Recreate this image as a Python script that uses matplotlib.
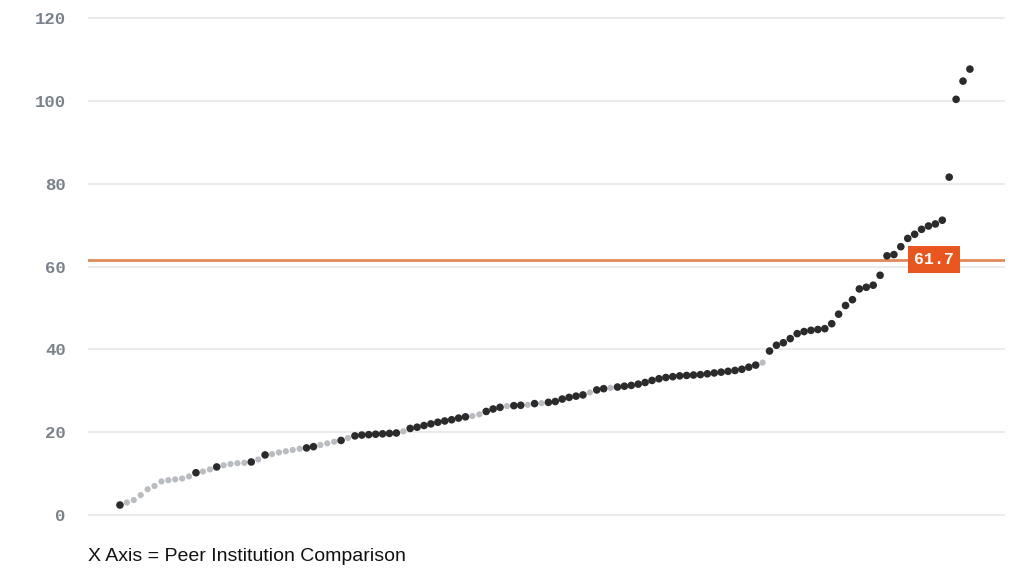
# Peer institution comparison: sorted values, with a 61.7 reference line.

import matplotlib.pyplot as plt
import numpy as np

# values, sorted low to high
values = [
    2.4, 3.0, 3.6, 4.8, 6.2, 7.0, 8.1, 8.4, 8.6, 8.8,
    9.3, 10.2, 10.5, 11.0, 11.6, 12.0, 12.3, 12.5, 12.6, 12.8,
    13.4, 14.5, 14.7, 15.1, 15.4, 15.7, 16.0, 16.2, 16.5, 16.9,
    17.3, 17.7, 18.0, 18.6, 19.1, 19.3, 19.4, 19.5, 19.6, 19.7,
    19.8, 20.2, 20.9, 21.2, 21.6, 22.0, 22.4, 22.7, 23.0, 23.4,
    23.7, 23.9, 24.3, 25.0, 25.6, 26.0, 26.3, 26.4, 26.5, 26.6,
    26.9, 27.0, 27.2, 27.4, 28.0, 28.4, 28.7, 29.0, 29.6, 30.2,
    30.5, 30.7, 30.9, 31.1, 31.3, 31.6, 32.0, 32.5, 32.9, 33.2,
    33.4, 33.6, 33.7, 33.8, 33.9, 34.1, 34.3, 34.5, 34.7, 34.9,
    35.2, 35.7, 36.2, 36.8, 39.6, 41.0, 41.6, 42.6, 43.8, 44.3,
    44.6, 44.8, 45.0, 46.2, 48.5, 50.6, 52.0, 54.6, 55.0, 55.5,
    57.9, 62.6, 62.9, 64.8, 66.8, 67.8, 69.0, 69.8, 70.3, 71.2,
    81.6, 100.4, 104.8, 107.7,
]

# which points are drawn faded (light grey) in the original
faded = [
    1, 2, 3, 4, 5, 6, 7, 8, 9, 10, 12, 13, 15, 16, 17, 18, 20, 22, 23, 24,
    25, 26, 29, 30, 31, 33, 41, 51, 52, 56, 59, 61, 68, 71, 93,
]

reference = 61.7
y_ticks = [0, 20, 40, 60, 80, 100, 120]
x_label = "X Axis = Peer Institution Comparison"

values = np.array(values)
idx = np.arange(len(values))
is_faded = np.isin(idx, faded)

fig = plt.figure(figsize=(10.24, 5.77), dpi=100)
ax = fig.add_axes([0.0859, 0.086, 0.8955, 0.904])

ax.set_ylim(-3, 123)
ax.set_xlim(-4.63, 128.07)

for t in y_ticks:
    ax.axhline(t, color="#ebebeb", lw=1.5, zorder=0)

ax.axhline(reference, color="#e2895c", lw=2, zorder=1)

ax.scatter(idx[is_faded], values[is_faded], s=20, color="#b9bcc0",
           edgecolors="none", zorder=2)
ax.scatter(idx[~is_faded], values[~is_faded], s=30, color="#2b2b2b",
           edgecolors="none", zorder=3)

ax.text(0.9226, reference, f"{reference}", transform=ax.get_yaxis_transform(),
        ha="center", va="center", color="white", fontsize=12,
        family="Liberation Mono", fontweight="bold", zorder=4,
        bbox=dict(boxstyle="square,pad=0.35", fc="#e8561f", ec="none"))

ax.set_yticks(y_ticks)
ax.set_xticks([])
ax.tick_params(axis="y", length=0, pad=16, labelsize=12.5, labelcolor="#7b818b")
for lab in ax.get_yticklabels():
    lab.set_family("Liberation Mono")
    lab.set_fontweight("bold")

for s in ax.spines.values():
    s.set_visible(False)

fig.text(0.0859, 0.035, x_label, ha="left", va="center", fontsize=14,
         family="Liberation Sans", color="#111111")

fig.savefig("out.png", dpi=100)
